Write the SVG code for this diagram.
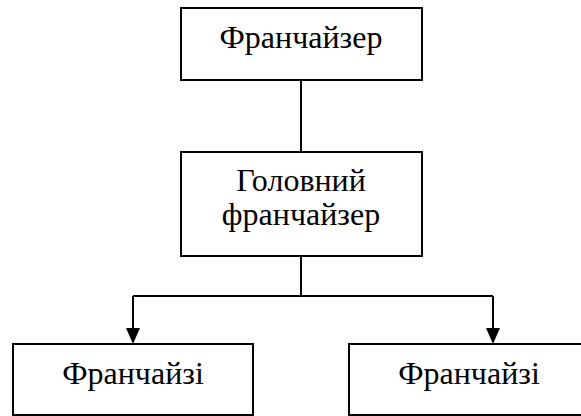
<svg xmlns="http://www.w3.org/2000/svg" width="581" height="416" viewBox="0 0 581 416">
  <style>
    .box { fill: #ffffff; stroke: #000000; stroke-width: 2; }
    .lbl { font-family: "Liberation Serif", "Times New Roman", serif; font-size: 32px; fill: #000000; text-anchor: middle; }
    .wire { fill: none; stroke: #000000; stroke-width: 2; }
  </style>
  <rect width="581" height="416" fill="#ffffff"/>

  <g id="connectors">
    <line class="wire" x1="301" y1="80" x2="301" y2="152"/>
    <polyline class="wire" points="301,256 301,296"/>
    <polyline class="wire" points="133,296 493,296"/>
    <line class="wire" x1="133" y1="296" x2="133" y2="328"/>
    <line class="wire" x1="493" y1="296" x2="493" y2="328"/>
    <path d="M126,328 L140,328 L133,344 Z" fill="#000000"/>
    <path d="M486,328 L500,328 L493,344 Z" fill="#000000"/>
  </g>

  <g id="franchisor">
    <rect class="box" x="181" y="8" width="241" height="72"/>
    <text class="lbl" x="301" y="48">Франчайзер</text>
  </g>

  <g id="master-franchisor">
    <rect class="box" x="181" y="152" width="241" height="104"/>
    <text class="lbl" x="301" y="191">Головний</text>
    <text class="lbl" x="301" y="225">франчайзер</text>
  </g>

  <g id="franchisee-left">
    <rect class="box" x="13" y="344" width="240" height="71"/>
    <text class="lbl" x="133" y="384">Франчайзі</text>
  </g>

  <g id="franchisee-right">
    <rect class="box" x="349" y="344" width="240" height="71"/>
    <text class="lbl" x="469" y="384">Франчайзі</text>
  </g>
</svg>
